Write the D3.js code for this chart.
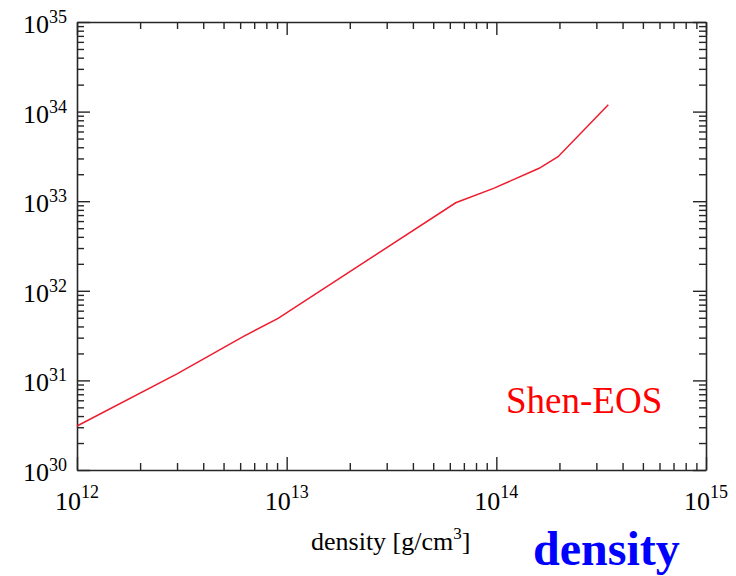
<!DOCTYPE html>
<html>
<head>
  <meta charset="utf-8">
  <title>Shen-EOS pressure vs density</title>
  <style>
    body { margin: 0; background: #fff; }
  </style>
</head>
<body>
  <script src="https://d3js.org/d3.v7.min.js"></script>
  <script>
    // values
    const density = [1e12, 3e12, 6.2e12, 9.1e12, 6.4e13, 9.7e13, 1.6e14, 1.97e14, 3.42e14];
    const pressure = [3.1e30, 1.18e31, 3.08e31, 4.93e31, 9.6e32, 1.39e33, 2.33e33, 3.14e33, 1.19e34];
    const xDecades = [12, 13, 14, 15];
    const yDecades = [30, 31, 32, 33, 34, 35];

    const width = 736;
    const height = 576;
    const margin = { left: 77, top: 22, right: 30, bottom: 106 };
    const serif = '"Liberation Serif", "Times New Roman", serif';

    const svg = d3.select('body')
      .append('svg')
      .attr('width', width)
      .attr('height', height)
      .attr('font-family', serif);

    const x = d3.scaleLog()
      .domain([1e12, 1e15])
      .range([margin.left, width - margin.right]);

    const y = d3.scaleLog()
      .domain([1e30, 1e35])
      .range([height - margin.bottom, margin.top]);

    const isMajor = (d) => Math.abs(Math.log10(d) - Math.round(Math.log10(d))) < 1e-9;
    const tickLen = (d) => (isMajor(d) ? 13 : 7);

    const axisColor = '#262626';

    // four sides, ticks pointing into the plot
    const sides = [
      { axis: d3.axisBottom(x), scale: x, at: y.range()[0], dir: -1, horiz: true },
      { axis: d3.axisTop(x), scale: x, at: y.range()[1], dir: 1, horiz: true },
      { axis: d3.axisLeft(y), scale: y, at: x.range()[0], dir: 1, horiz: false },
      { axis: d3.axisRight(y), scale: y, at: x.range()[1], dir: -1, horiz: false }
    ];

    sides.forEach((s) => {
      const g = svg.append('g')
        .attr('transform', s.horiz ? `translate(0,${s.at})` : `translate(${s.at},0)`)
        .call(s.axis.tickValues(s.scale.ticks()).tickFormat('').tickSizeOuter(0).tickSizeInner(0));

      g.select('.domain').attr('stroke', axisColor).attr('stroke-width', 1.6);

      g.selectAll('.tick line')
        .attr('stroke', axisColor)
        .attr('stroke-width', 1.4)
        .each(function (d) {
          const len = tickLen(d) * s.dir;
          if (s.horiz) d3.select(this).attr('y2', len);
          else d3.select(this).attr('x2', len);
        });
    });

    // tick labels: 10 with superscript exponent
    svg.append('g')
      .selectAll('text')
      .data(xDecades)
      .join('text')
      .attr('x', (d) => x(Math.pow(10, d)))
      .attr('y', y.range()[0] + 40)
      .attr('text-anchor', 'middle')
      .attr('font-family', serif)
      .attr('font-size', 26)
      .attr('fill', '#000')
      .call((t) => {
        t.append('tspan').text('10');
        t.append('tspan').attr('dy', -12).attr('font-size', 18).text((d) => d);
      });

    svg.append('g')
      .selectAll('text')
      .data(yDecades)
      .join('text')
      .attr('x', x.range()[0] - 10)
      .attr('y', (d) => y(Math.pow(10, d)) + 11)
      .attr('text-anchor', 'end')
      .attr('font-family', serif)
      .attr('font-size', 26)
      .attr('fill', '#000')
      .call((t) => {
        t.append('tspan').text('10');
        t.append('tspan').attr('dy', -10).attr('font-size', 18).text((d) => d);
      });

    // curve
    const pts = density.map((d, i) => [d, pressure[i]]);
    svg.append('path')
      .datum(pts)
      .attr('fill', 'none')
      .attr('stroke', '#ee1c2e')
      .attr('stroke-width', 1.5)
      .attr('d', d3.line().x((d) => x(d[0])).y((d) => y(d[1])));

    // legend text
    svg.append('text')
      .attr('x', 506)
      .attr('y', 413)
      .attr('font-family', serif)
      .attr('font-size', 37)
      .attr('fill', '#ff0000')
      .text('Shen-EOS');

    // axis title
    const title = svg.append('text')
      .attr('x', 311)
      .attr('y', 550)
      .attr('font-family', serif)
      .attr('font-size', 26)
      .attr('fill', '#000');
    title.append('tspan').text('density [g/cm');
    title.append('tspan').attr('dy', -11).attr('font-size', 17).text('3');
    title.append('tspan').attr('dy', 11).text(']');

    svg.append('text')
      .attr('x', 533)
      .attr('y', 565)
      .attr('font-family', serif)
      .attr('font-size', 48)
      .attr('font-weight', 'bold')
      .attr('fill', '#0000ff')
      .text('density');
  </script>
</body>
</html>
